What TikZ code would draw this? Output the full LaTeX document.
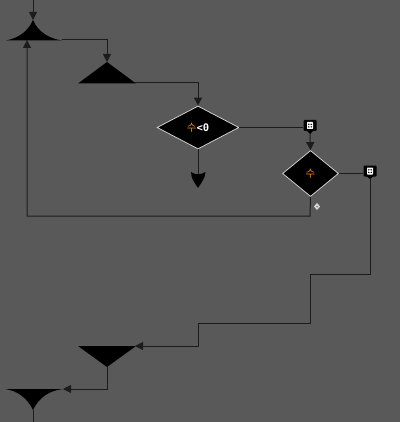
\documentclass[tikz,border=0pt]{standalone}
\usepackage{fontspec}
\newfontfamily\kr{Noto Sans CJK KR}
\setmonofont{DejaVu Sans Mono}
\usetikzlibrary{shapes.geometric,arrows.meta,calc}
\definecolor{bg}{HTML}{595959}
\definecolor{ln}{HTML}{1C1C1C}
\definecolor{dborder}{HTML}{CFCFCF}
\definecolor{org}{HTML}{E8890C}
\tikzset{
  conn/.style={draw=ln, line width=1pt},
  arr/.style={conn, -{Triangle[length=8pt,width=8pt]}},
  dia/.style={diamond, draw=dborder, fill=black, line width=0.8pt, inner sep=0pt, font=\fontsize{10.5}{12}\selectfont},
  mbox/.style={fill=black, rounded corners=1pt, minimum width=13pt, minimum height=11pt, inner sep=0pt},
}
\newcommand{\markicon}[1]{%
  \fill[white, rounded corners=0.6pt] ($(#1)+(-3,-3.5)$) rectangle ($(#1)+(3,3.5)$);
  \fill[black] ($(#1)+(-1.2,-1.2)$) circle (0.8) ($(#1)+(1.2,-1.2)$) circle (0.8)
               ($(#1)+(-1.2,1.4)$) circle (0.8) ($(#1)+(1.2,1.4)$) circle (0.8);}
\begin{document}
\begin{tikzpicture}[x=1pt,y=-1pt]
\fill[bg] (0,0) rectangle (400,422);
\useasboundingbox (0,0) rectangle (400,422);

% named points
\coordinate (topin) at (33,0);
\coordinate (n1apex) at (33,20);
\coordinate (n1r) at (62,40);
\coordinate (n1in) at (27,40);
\coordinate (n2apex) at (107,62);
\coordinate (n2r) at (135,83);
\coordinate (termtop) at (198,174);
\coordinate (n5r) at (135,346);
\coordinate (n5apex) at (107,367);
\coordinate (n6r) at (63,389);
\coordinate (n6apex) at (33,410);
\coordinate (botout) at (33,422);
\coordinate (loopa) at (310,216);
\coordinate (loopb) at (27,216);
\coordinate (b2tip) at (370,179);
\coordinate (s1) at (370,274);
\coordinate (s2) at (310,274);
\coordinate (s3) at (310,323);
\coordinate (s4) at (198,323);
\coordinate (s5) at (198,346);
\coordinate (b1tip) at (310,134);

% diamonds
\node[dia, minimum width=82pt, minimum height=43pt] (d1) at (198,127.5)
  {{\kr\textcolor{org}{수}}\textcolor{white}{\ttfamily\bfseries<0}};
\node[dia, minimum width=56pt, minimum height=46pt] (d2) at (310.5,173.5)
  {{\kr\textcolor{org}{수}}};

% marker boxes
\node[mbox] (b1) at (310,125.5) {};
\fill[black] (305,129) -- (315,129) -- (b1tip) -- cycle;
\markicon{b1}
\node[mbox] (b2) at (370,171) {};
\fill[black] (365,175) -- (375,175) -- (b2tip) -- cycle;
\markicon{b2}

% connectors
\draw[arr] (topin) -- (n1apex);
\draw[arr] (n1r) -| (n2apex);
\draw[arr] (n2r) -| (d1.north);
\draw[conn] (d1.south) -- (termtop);
\draw[conn] (d1.east) -- (d1.east -| b1.west);
\draw[arr] (b1tip) -- (d2.north);
\draw[conn] (d2.east) -- (d2.east -| b2.west);
\draw[arr] (b2tip) -- (s1) -- (s2) -- (s3) -- (s4) -- (s5) -- (n5r);
\draw[arr] (n5apex) |- (n6r);
\draw[conn] (n6apex) -- (botout);
\draw[arr] (d2.south) -- (loopa) -- (loopb) -- (n1in);

% shapes
\fill[black] (6,40.5) .. controls (17,38.5) and (28,32) .. (n1apex)
   .. controls (38,32) and (49,38.5) .. (62,40.5) -- cycle;
\fill[black] (78,83.5) -- (n2apex) -- (136,83.5) -- cycle;
\fill[black] (78,346) -- (136,346) -- (n5apex) -- cycle;
\fill[black] (5,389) -- (63,389) .. controls (50,390.5) and (39,397) .. (n6apex)
   .. controls (27,397) and (16,390.5) .. cycle;
\fill[black] (191,172) .. controls (195,175) and (201,175) .. (205.5,172)
   .. controls (205,179) and (201,183) .. (198,188)
   .. controls (195,183) and (191,179) .. cycle;

% small marker
\fill[white!85!black] (317,203) -- (320,206.5) -- (317,210) -- (314,206.5) -- cycle;
\fill[white!50!black] (317,206.5) circle (1);
\end{tikzpicture}
\end{document}
